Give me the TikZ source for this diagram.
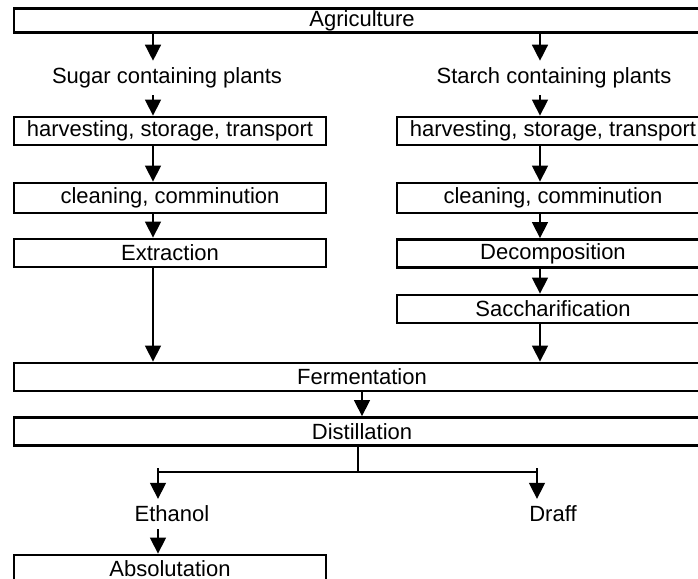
\documentclass[tikz,border=0pt]{standalone}
\usepackage{fontspec}
\setmainfont{Liberation Sans}
\usetikzlibrary{arrows.meta}

\begin{document}
\begin{tikzpicture}[x=0.5pt,y=-0.5pt,
    boks/.style={draw, line width=1.4pt, minimum height=14pt, inner sep=0pt, font=\fontsize{11}{13}\selectfont},
    smal/.style={boks, minimum width=156pt},
    brei/.style={boks, minimum width=348pt},
    tekst/.style={font=\fontsize{11}{13}\selectfont},
    pil/.style={-{Triangle[length=8pt,width=8pt]}, line width=0.7pt}]

\useasboundingbox (0,0) rectangle (698,579);
\clip (0,0) rectangle (698,579);

\node  [brei, minimum height=12pt] (agri) at (362,20.5){Agriculture};
\node  [tekst] (sugar) at (167,78){Sugar containing plants};
\node  [tekst] (starch) at (554,78){Starch containing plants};
\node  [smal] (harvA) at (170,131){harvesting, storage, transport};
\node  [smal] (harvB) at (553,131){harvesting, storage, transport};
\node  [smal, minimum height=15pt] (cleanA) at (170,198){cleaning, comminution};
\node  [smal, minimum height=15pt] (cleanB) at (553,198){cleaning, comminution};
\node  [smal] (extr) at (170,253){Extraction};
\node  [smal] (decomp) at (553,253.5){Decomposition};
\node  [smal] (sacch) at (553,309){Saccharification};
\node  [brei] (ferm) at (362,377){Fermentation};
\node  [brei] (dist) at (362,431.5){Distillation};
\node  [tekst] (eth) at (172,514){Ethanol};
\node  [tekst] (draff) at (553,514){Draff};
\node  [smal] (abs) at (170,569){Absolutation};

\coordinate (vA) at (153,0);
\coordinate (vB) at (540,0);
\coordinate (split) at (358,472);
\coordinate (ut1) at (158,468);
\coordinate (ut2) at (537,468);

\draw[pil] (agri.south -| vA) -- (sugar.north -| vA);
\draw[pil] (sugar.south -| vA) -- (harvA.north -| vA);
\draw[pil] (harvA.south -| vA) -- (cleanA.north -| vA);
\draw[pil] (cleanA.south -| vA) -- (extr.north -| vA);
\draw[pil] (extr.south -| vA) -- (ferm.north -| vA);
\draw[pil] (agri.south -| vB) -- (starch.north -| vB);
\draw[pil] (starch.south -| vB) -- (harvB.north -| vB);
\draw[pil] (harvB.south -| vB) -- (cleanB.north -| vB);
\draw[pil] (cleanB.south -| vB) -- (decomp.north -| vB);
\draw[pil] (decomp.south -| vB) -- (sacch.north -| vB);
\draw[pil] (sacch.south -| vB) -- (ferm.north -| vB);
\draw[pil] (ferm) -- (dist);
\draw[line width=0.7pt] (dist.south -| split) -- (split);
\draw[line width=0.7pt] (ut1 |- split) -- (ut2 |- split);
\draw[pil] (ut1) -- (eth.north -| ut1);
\draw[pil] (ut2) -- (draff.north -| ut2);
\draw[pil] (eth.south -| ut1) -- (abs.north -| ut1);
\end{tikzpicture}
\end{document}
